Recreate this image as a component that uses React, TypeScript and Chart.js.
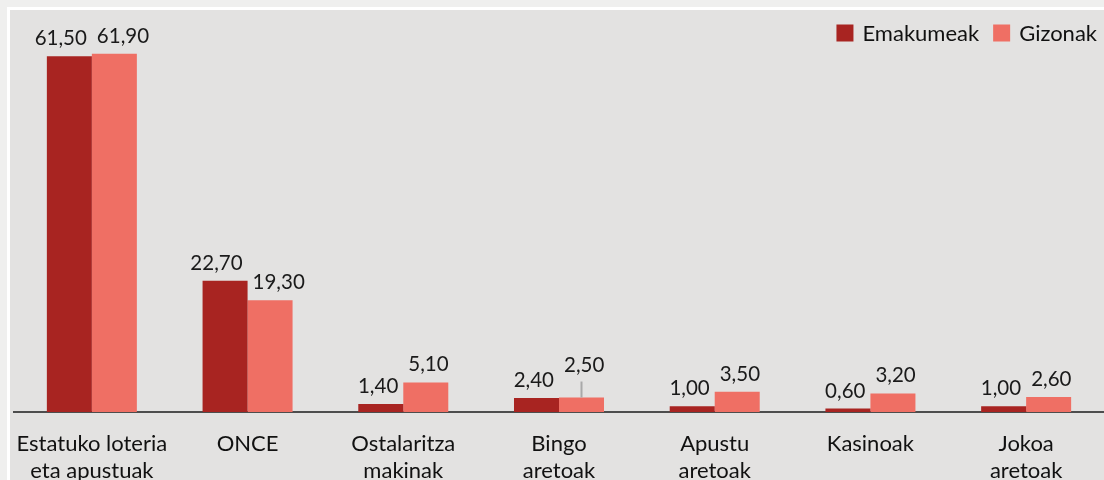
import React, { useEffect, useRef } from "react";
import { Chart, registerables } from "chart.js";

Chart.register(...registerables);

const categories: string[][] = [
  ["Estatuko loteria", "eta apustuak"],
  ["ONCE"],
  ["Ostalaritza", "makinak"],
  ["Bingo", "aretoak"],
  ["Apustu", "aretoak"],
  ["Kasinoak"],
  ["Jokoa", "aretoak"],
];
const emakumeak: number[] = [61.5, 22.7, 1.4, 2.4, 1.0, 0.6, 1.0];
const gizonak: number[] = [61.9, 19.3, 5.1, 2.5, 3.5, 3.2, 2.6];
const seriesNames: string[] = ["Emakumeak", "Gizonak"];
const seriesColors: string[] = ["#a82421", "#ef6f64"];

const FONT = "Lato, 'Noto Sans', sans-serif";

const fmt = (v: number) => v.toFixed(2).replace(".", ",");

const labelPlugin = {
  id: "valueLabels",
  afterDatasetsDraw(chart: any) {
    const ctx = chart.ctx;
    ctx.save();
    ctx.font = `20.5px ${FONT}`;
    ctx.fillStyle = "#1a1a1a";
    ctx.textBaseline = "alphabetic";
    chart.data.datasets.forEach((ds: any, di: number) => {
      const meta = chart.getDatasetMeta(di);
      meta.data.forEach((bar: any, i: number) => {
        const v = ds.data[i] as number;
        const half = bar.width / 2;
        let y = bar.y - 11;
        // lifted label with leader line (Bingo, Gizonak)
        if (di === 1 && i === 3) {
          y = bar.y - 26;
          ctx.save();
          ctx.strokeStyle = "#a9a9a9";
          ctx.lineWidth = 2;
          ctx.beginPath();
          ctx.moveTo(bar.x, y + 10);
          ctx.lineTo(bar.x, bar.y);
          ctx.stroke();
          ctx.restore();
        }
        if (di === 0) {
          ctx.textAlign = "right";
          ctx.fillText(fmt(v), bar.x + half - 5, y);
        } else {
          ctx.textAlign = "left";
          ctx.fillText(fmt(v), bar.x - half + 5, y);
        }
      });
    });
    ctx.restore();
  },
};

const legendPlugin = {
  id: "customLegend",
  afterDraw(chart: any) {
    const ctx = chart.ctx;
    ctx.save();
    ctx.font = `22px ${FONT}`;
    ctx.textBaseline = "middle";
    ctx.textAlign = "left";
    const cy = 33;
    let right = 1097;
    const items = chart.data.datasets.map((d: any) => ({ label: d.label, color: d.backgroundColor }));
    for (let k = items.length - 1; k >= 0; k--) {
      const it = items[k];
      const w = ctx.measureText(it.label).width;
      const tx = right - w;
      const bx = tx - 26;
      ctx.fillStyle = it.color;
      ctx.fillRect(bx, cy - 8.5, 17, 17);
      ctx.fillStyle = "#111";
      ctx.fillText(it.label, tx, cy + 1);
      right = bx - 14;
    }
    ctx.restore();
  },
};

export default function App() {
  const ref = useRef<HTMLCanvasElement | null>(null);
  useEffect(() => {
    document.body.style.margin = "0";
    if (!ref.current) return;
    const chart = new Chart(ref.current, {
      type: "bar",
      data: {
        labels: categories,
        datasets: [
          { label: seriesNames[0], data: emakumeak, backgroundColor: seriesColors[0], borderWidth: 0 },
          { label: seriesNames[1], data: gizonak, backgroundColor: seriesColors[1], borderWidth: 0 },
        ],
      },
      options: {
        animation: false,
        responsive: true,
        maintainAspectRatio: false,
        layout: { padding: { left: 14, top: 7, right: 0, bottom: 0 } },
        datasets: { bar: { categoryPercentage: 0.578, barPercentage: 1.0 } },
        plugins: { legend: { display: false }, tooltip: { enabled: false } },
        scales: {
          x: {
            grid: { display: false, drawTicks: false },
            border: { display: true, color: "#4d4d4d", width: 2 },
            afterFit: (s: any) => {
              s.height = 68;
              s.paddingLeft = 0;
              s.paddingRight = 0;
            },
            ticks: {
              color: "#111",
              padding: 18,
              font: { family: FONT, size: 22, lineHeight: 1.25 },
              maxRotation: 0,
              autoSkip: false,
            },
          },
          y: { display: false, min: 0, max: 70 },
        },
      },
      plugins: [labelPlugin, legendPlugin],
    });
    return () => chart.destroy();
  }, []);
  return (
    <div style={{ position: "fixed", left: 0, top: 0, width: 1104, height: 480, background: "#efefee", overflow: "hidden" }}>
      <div
        style={{
          position: "absolute",
          left: 7,
          top: 7,
          width: 1200,
          height: 600,
          background: "#e3e2e1",
          borderLeft: "3px solid #ffffff",
          borderTop: "3px solid #ffffff",
        }}
      />
      <div style={{ position: "absolute", left: 0, top: 0, width: 1104, height: 480 }}>
        <canvas ref={ref} />
      </div>
    </div>
  );
}
